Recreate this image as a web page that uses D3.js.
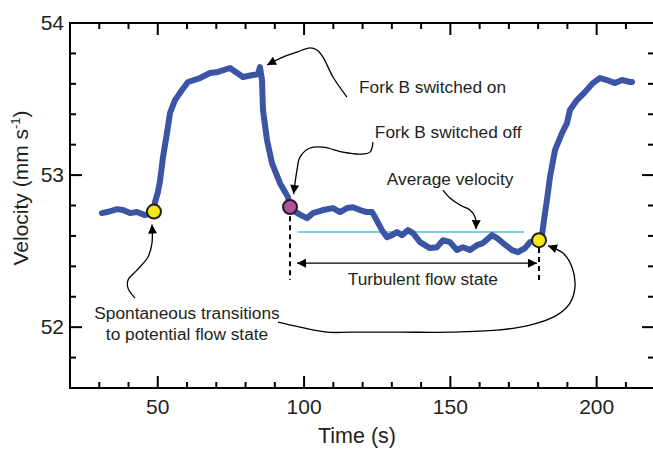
<!DOCTYPE html>
<html lang="en">
<head>
<meta charset="UTF-8">
<title>Velocity vs time</title>
<script src="https://cdn.jsdelivr.net/npm/d3@7"></script>
<style>
  html, body { margin: 0; padding: 0; background: #fff; }
  svg text { font-family: "Liberation Sans", Arial, Helvetica, sans-serif; fill: #231f20; }
</style>
</head>
<body>
<svg id="chart" width="653" height="450"></svg>
<script>
// measured velocity trace (s, mm/s)
const time = [30.9, 32.6, 34.4, 36.1, 38.1, 40.5, 42.9, 45.6, 48.0, 48.7,
  49.05, 50.07, 50.76, 51.78, 53.15, 54.18, 55.88, 58.28, 60.33, 64.43, 67.85, 70.58,
  74.68, 79.12, 82.54, 84.25, 84.93, 85.62, 85.96, 87.33, 89.04, 91.77, 94.5, 95.2,
  96.9, 98.6, 101.0, 103.05, 106.46, 109.88, 112.27, 114.67, 116.72, 119.11, 121.5, 123.21,
  124.24, 126.63, 128.34, 130.05, 131.76, 133.47, 135.52, 137.22, 139.62, 143.03,
  145.43, 147.48, 149.87, 152.26, 154.31, 156.71, 159.1, 161.15, 164.22, 165.93,
  167.98, 171.06, 173.11, 175.5, 177.21, 179.6, 180.3,
  181.31, 182.34, 183.02, 184.05, 185.76, 188.15, 189.86, 190.88, 193.27, 196.01,
  198.74, 201.13, 203.53, 206.26, 208.65, 211.39, 212.07];
const velocity = [52.75, 52.757, 52.766, 52.776, 52.77, 52.75, 52.757, 52.737, 52.75, 52.76,
  52.822, 52.89, 52.96, 53.118, 53.276, 53.408, 53.493, 53.559, 53.612, 53.638, 53.671, 53.678,
  53.704, 53.645, 53.658, 53.664, 53.71, 53.625, 53.428, 53.23, 53.079, 52.947, 52.855, 52.79,
  52.76, 52.74, 52.717, 52.75, 52.77, 52.783, 52.757, 52.783, 52.789, 52.77, 52.757, 52.757,
  52.724, 52.638, 52.592, 52.605, 52.625, 52.605, 52.638, 52.618, 52.559, 52.52,
  52.526, 52.572, 52.559, 52.507, 52.526, 52.507, 52.539, 52.553, 52.605, 52.586,
  52.553, 52.507, 52.493, 52.52, 52.559, 52.572, 52.572,
  52.605, 52.75, 52.836, 52.987, 53.164, 53.276, 53.342, 53.428, 53.493, 53.546,
  53.605, 53.638, 53.625, 53.605, 53.625, 53.612, 53.612];

// transition points
const transTime = [48.7, 180.3];
const transVel = [52.76, 52.572];
const forkOffTime = 95.2;
const forkOffVel = 52.79;

// average velocity over turbulent state
const avgTime = [97.9, 175.2];
const avgVel = 52.625;

const xTicks = [50, 100, 150, 200];
const yTicks = [52, 53, 54];

const svg = d3.select("#chart");
const pl = 70, pt = 23, pr = 654, pb = 388;

const x = d3.scaleLinear().domain([20, 219.6]).range([pl, pr]);
const y = d3.scaleLinear().domain([51.6, 54]).range([pb, pt]);

// arrow marker
svg.append("defs").append("marker")
  .attr("id", "arr")
  .attr("viewBox", "0 0 10 10")
  .attr("refX", 10).attr("refY", 5)
  .attr("markerWidth", 12).attr("markerHeight", 9)
  .attr("markerUnits", "userSpaceOnUse")
  .attr("orient", "auto-start-reverse")
  .append("path").attr("d", "M0,0L10,5L0,10z").attr("fill", "#000");

// frame with inward ticks
const minorX = d3.range(30, 220, 10);
const minorY = d3.range(51.6, 54.01, 0.2).map(d => +d.toFixed(1));
const frame = svg.append("g").attr("stroke", "#000").attr("stroke-width", 2);
frame.append("path").attr("fill", "none")
  .attr("d", `M${pr},${pt}H${pl}V${pb}H${pr}`);
minorX.forEach(t => {
  const len = xTicks.includes(t) ? 12 : 6;
  frame.append("line").attr("x1", x(t)).attr("x2", x(t)).attr("y1", pb).attr("y2", pb - len);
  frame.append("line").attr("x1", x(t)).attr("x2", x(t)).attr("y1", pt).attr("y2", pt + len);
});
minorY.forEach(v => {
  const len = yTicks.includes(v) ? 12 : 6;
  frame.append("line").attr("y1", y(v)).attr("y2", y(v)).attr("x1", pl).attr("x2", pl + len);
  frame.append("line").attr("y1", y(v)).attr("y2", y(v)).attr("x1", pr).attr("x2", pr - len);
});

svg.selectAll(".xl").data(xTicks).join("text")
  .attr("x", d => x(d)).attr("y", pb + 26)
  .attr("text-anchor", "middle").attr("font-size", 21).text(d => d);
svg.selectAll(".yl").data(yTicks).join("text")
  .attr("x", pl - 6).attr("y", d => y(d) + 7)
  .attr("text-anchor", "end").attr("font-size", 21).text(d => d);

svg.append("text").attr("x", 357).attr("y", 443)
  .attr("text-anchor", "middle").attr("font-size", 21.5).text("Time (s)");
const yl = svg.append("text").attr("transform", "translate(28,188) rotate(-90)")
  .attr("text-anchor", "middle").attr("font-size", 21);
yl.append("tspan").text("Velocity (mm s");
yl.append("tspan").attr("font-size", 13).attr("dy", -8).text("-1");
yl.append("tspan").attr("dy", 8).text(")");

// average line
svg.append("line")
  .attr("x1", x(avgTime[0])).attr("x2", x(avgTime[1]))
  .attr("y1", y(avgVel)).attr("y2", y(avgVel))
  .attr("stroke", "#7ccfe0").attr("stroke-width", 2);

// trace
const line = d3.line().x((d, i) => x(time[i])).y((d, i) => y(velocity[i]));
svg.append("path").attr("d", line(time))
  .attr("fill", "none").attr("stroke", "#3b55a6").attr("stroke-width", 6)
  .attr("stroke-linejoin", "round").attr("stroke-linecap", "round");

// dashed markers of turbulent interval
const dash = svg.append("g").attr("stroke", "#000").attr("stroke-width", 2).attr("stroke-dasharray", "5,4");
dash.append("line").attr("x1", x(forkOffTime)).attr("x2", x(forkOffTime))
  .attr("y1", y(52.73)).attr("y2", y(52.31));
dash.append("line").attr("x1", x(transTime[1])).attr("x2", x(transTime[1]))
  .attr("y1", y(52.52)).attr("y2", y(52.31));

// double arrow
svg.append("line")
  .attr("x1", x(97.6)).attr("x2", x(179.6)).attr("y1", y(52.421)).attr("y2", y(52.421))
  .attr("stroke", "#000").attr("stroke-width", 1.3)
  .attr("marker-start", "url(#arr)").attr("marker-end", "url(#arr)");

// annotation leaders (data coords)
const leaders = [
  [[114.67, 53.513], [109.88, 53.645], [106.46, 53.776], [104.41, 53.822], [102.02, 53.836], [97.58, 53.809], [92.8, 53.776], [87.33, 53.724]],
  [[123.55, 53.217], [122.52, 53.151], [119.11, 53.138], [113.3, 53.151], [106.46, 53.184], [102.02, 53.178], [98.6, 53.118], [97.58, 53.033], [96.9, 52.947], [96.4, 52.875]],
  [[147.48, 52.901], [149.87, 52.849], [153.29, 52.803], [156.71, 52.77], [158.42, 52.724], [158.76, 52.645]],
  [[42.21, 52.191], [39.82, 52.257], [39.82, 52.309], [42.9, 52.375], [46.66, 52.461], [48.02, 52.553], [48.02, 52.675]],
  [[91.09, 52.033], [98.6, 52.0], [107.83, 51.967], [115.69, 51.967], [132.78, 51.967], [149.87, 51.967], [165.93, 51.98], [177.21, 52.013], [186.44, 52.079], [190.88, 52.158], [192.59, 52.263], [191.57, 52.395], [188.49, 52.487], [183.36, 52.535]]
];
const lead = d3.line().x(d => x(d[0])).y(d => y(d[1])).curve(d3.curveCatmullRom);
leaders.forEach(pts => {
  svg.append("path").attr("d", lead(pts)).attr("fill", "none")
    .attr("stroke", "#000").attr("stroke-width", 1.3).attr("marker-end", "url(#arr)");
});

// transition circles
svg.selectAll(".tr").data(transTime).join("circle")
  .attr("cx", d => x(d)).attr("cy", (d, i) => y(transVel[i])).attr("r", 7)
  .attr("fill", "#f4e816").attr("stroke", "#231f20").attr("stroke-width", 2);
svg.append("circle").attr("cx", x(forkOffTime)).attr("cy", y(forkOffVel)).attr("r", 7)
  .attr("fill", "#b1519c").attr("stroke", "#231f20").attr("stroke-width", 2);

// annotation text
const notes = [
  { t: 118.8, v: 53.539, a: "start", s: "Fork B switched on" },
  { t: 124.2, v: 53.243, a: "start", s: "Fork B switched off" },
  { t: 128.3, v: 52.934, a: "start", s: "Average velocity" },
  { t: 140.6, v: 52.276, a: "middle", s: "Turbulent flow state" },
  { t: 60.0, v: 52.053, a: "middle", s: "Spontaneous transitions" },
  { t: 60.0, v: 51.914, a: "middle", s: "to potential flow state" }
];
svg.selectAll(".note").data(notes).join("text")
  .attr("x", d => x(d.t)).attr("y", d => y(d.v))
  .attr("text-anchor", d => d.a).attr("font-size", 17.3).text(d => d.s);
</script>
</body>
</html>
